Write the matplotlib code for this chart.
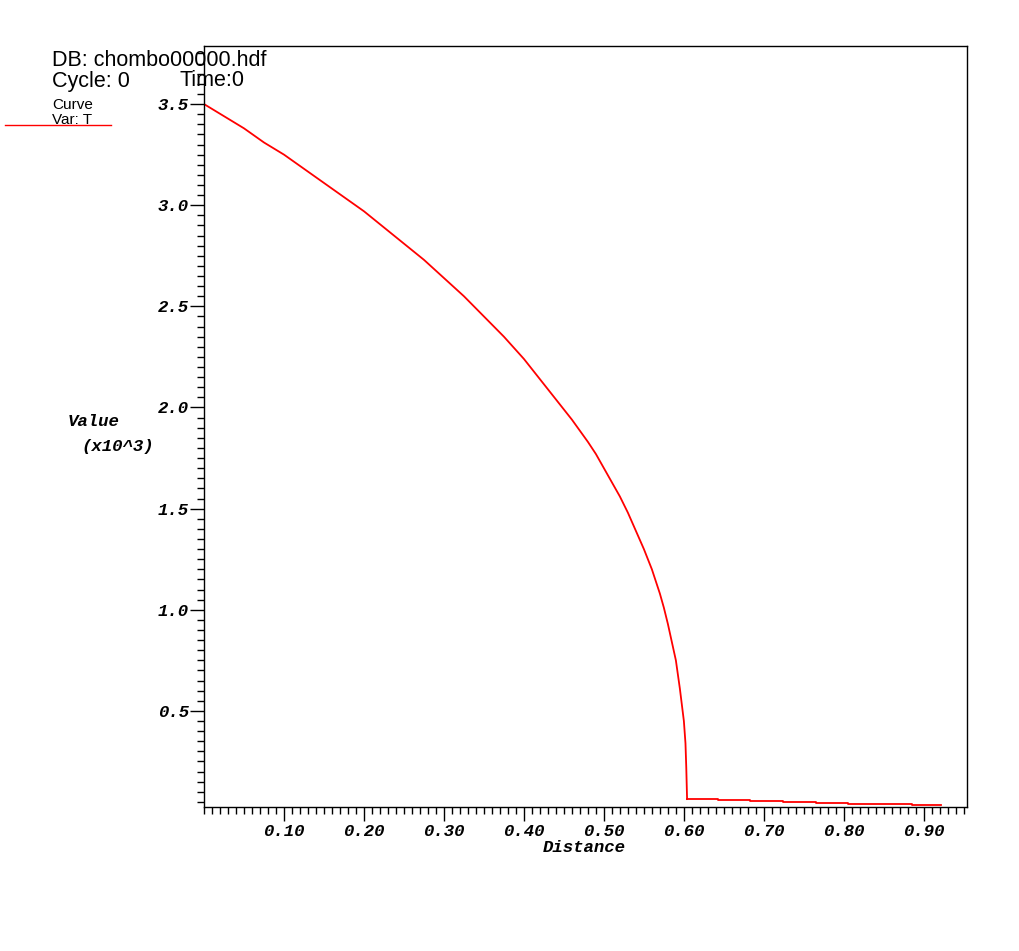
import numpy as np
import matplotlib
matplotlib.use('Agg')
import matplotlib.pyplot as plt
from matplotlib.ticker import MultipleLocator, FixedLocator, FormatStrFormatter
from matplotlib.font_manager import FontProperties

# --- data (values in units of 10^3)
dist = [0.0, 0.025, 0.05, 0.075, 0.10, 0.125, 0.15, 0.175, 0.20, 0.225, 0.25,
        0.275, 0.30, 0.325, 0.35, 0.375, 0.40, 0.42, 0.44, 0.46, 0.48, 0.49,
        0.50, 0.51, 0.52, 0.53, 0.54, 0.55, 0.56, 0.565, 0.57, 0.575, 0.58,
        0.585, 0.59, 0.595, 0.600, 0.602, 0.603, 0.604]
temp = [3.50, 3.44, 3.38, 3.31, 3.25, 3.18, 3.11, 3.04, 2.97, 2.89, 2.81,
        2.73, 2.64, 2.55, 2.45, 2.35, 2.24, 2.14, 2.04, 1.94, 1.83, 1.77,
        1.70, 1.63, 1.56, 1.48, 1.39, 1.30, 1.20, 1.14, 1.08, 1.01, 0.93,
        0.84, 0.75, 0.61, 0.45, 0.34, 0.22, 0.064]
# coarse cells ahead of the front
tail_x = [0.604, 0.643, 0.683, 0.724, 0.765, 0.805, 0.845, 0.885, 0.922]
tail_v = [0.064, 0.059, 0.057, 0.052, 0.047, 0.042, 0.038, 0.033, 0.033]

xticks = [0.10, 0.20, 0.30, 0.40, 0.50, 0.60, 0.70, 0.80, 0.90]
yticks = [0.5, 1.0, 1.5, 2.0, 2.5, 3.0, 3.5]

W, H = 1019, 951
fig = plt.figure(figsize=(W/100, H/100), dpi=100)
ax = fig.add_axes([204/W, 1-807/H, (967-204)/W, (807-46)/H])

ax.plot(dist, temp, color='red', lw=1.3)
ax.plot(tail_x, tail_v, color='red', lw=1.3, drawstyle='steps-post')

ax.set_xlim(0.0, 0.954)
ax.set_ylim(0.025, 3.787)

tickfont = dict(family='Liberation Mono', weight='bold', style='italic', size=12.5)
ax.xaxis.set_major_locator(FixedLocator(xticks))
ax.xaxis.set_minor_locator(MultipleLocator(0.01))
ax.yaxis.set_major_locator(FixedLocator(yticks))
ax.yaxis.set_minor_locator(MultipleLocator(0.05))
ax.xaxis.set_major_formatter(FormatStrFormatter('%.2f'))
ax.yaxis.set_major_formatter(FormatStrFormatter('%.1f'))
ax.tick_params(which='major', direction='out', length=10, width=1)
ax.tick_params(which='minor', direction='out', length=5, width=1)
ax.tick_params(axis='x', which='major', pad=2)
ax.tick_params(axis='y', which='major', pad=1)
ax.tick_params(top=False, right=False)
for lab in ax.get_xticklabels() + ax.get_yticklabels():
    lab.set_fontproperties(FontProperties(**tickfont))
for s in ax.spines.values():
    s.set_linewidth(1)

# axis titles
fig.text(68/W, 1-422/H, 'Value', ha='left', va='center', **tickfont)
fig.text(81/W, 1-446/H, '(x10^3)', ha='left', va='center', **tickfont)
fig.text(584/W, 1-847/H, 'Distance', ha='center', va='center', **tickfont)

# database / legend annotations
sans = 'Liberation Sans'
fig.text(52/W, 1-61/H, 'DB: chombo00000.hdf', family=sans, size=15.5, va='center')
fig.text(52/W, 1-81/H, 'Cycle: 0', family=sans, size=15.5, va='center')
fig.text(180/W, 1-81/H, 'Time:0', family=sans, size=15.5, va='center')
fig.text(52/W, 1-105/H, 'Curve', family=sans, size=11, va='center')
fig.text(52/W, 1-120/H, 'Var: T', family=sans, size=11, va='center')
fig.add_artist(plt.Line2D([5/W, 111/W], [1-125/H, 1-125/H], color='red', lw=1))

fig.savefig('out.png', dpi=100)
